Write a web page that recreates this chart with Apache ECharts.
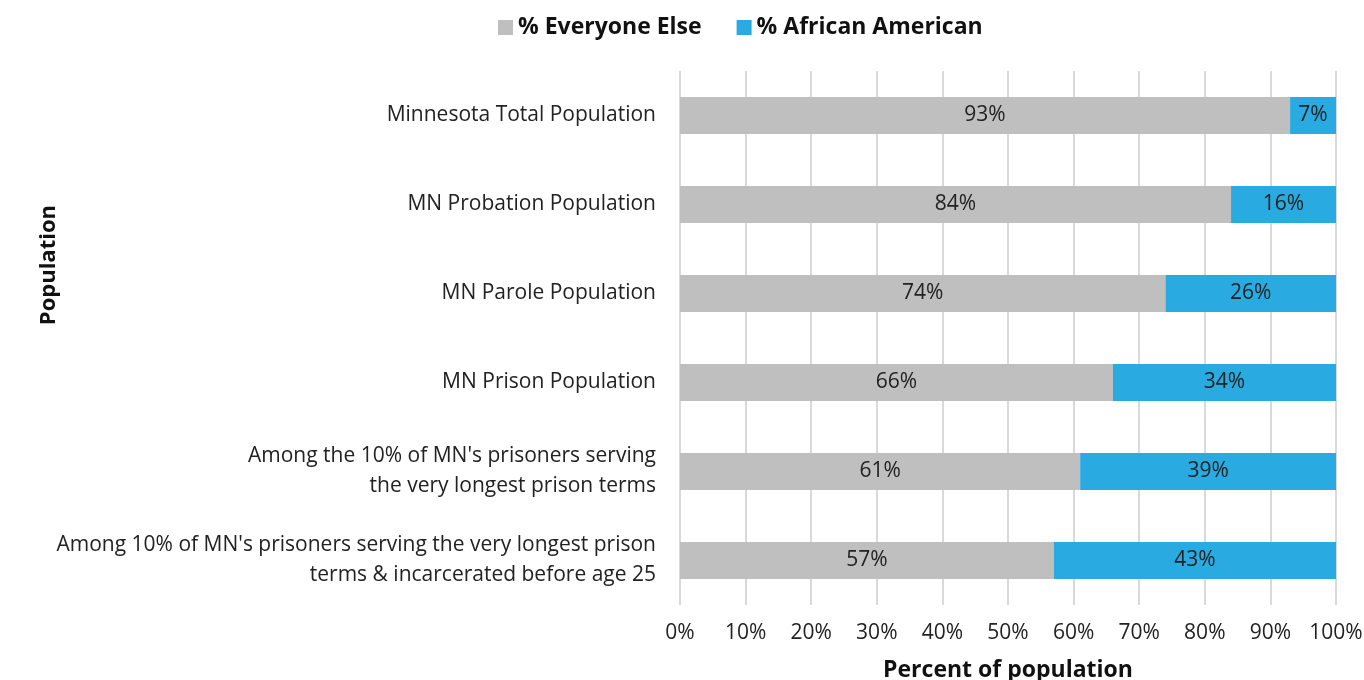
<!DOCTYPE html>
<html>
<head>
<meta charset="utf-8">
<script src="https://cdn.jsdelivr.net/npm/echarts@6/dist/echarts.min.js"></script>
<style>
  html, body { margin: 0; padding: 0; background: #fff; }
  #main { width: 1364px; height: 680px; }
</style>
</head>
<body>
<div id="main"></div>
<script>
(function () {
    "use strict";

    var categories = [
        'Minnesota Total Population',
        'MN Probation Population',
        'MN Parole Population',
        'MN Prison Population',
        'Among the 10% of MN\'s prisoners serving\nthe very longest prison terms',
        'Among 10% of MN\'s prisoners serving the very longest prison\nterms & incarcerated before age 25'
    ];
    var everyoneElse = [93, 84, 74, 66, 61, 57];
    var africanAmerican = [7, 16, 26, 34, 39, 43];
    var xTicks = [0, 100, 10];

    var font = '"Open Sans", "Liberation Sans", sans-serif';
    var myChart = echarts.init(document.getElementById('main'));

    var labelStyle = {
        show: true,
        position: 'inside',
        formatter: '{c}%',
        color: '#222',
        fontSize: 21,
        fontFamily: font
    };

    var option = {
        backgroundColor: '#fff',
        legend: {
            left: 493,
            top: 11,
            itemWidth: 15,
            itemHeight: 15,
            itemGap: 35,
            itemTextGap: 7,
            icon: 'rect',
            textStyle: {
                fontFamily: font,
                fontSize: 23,
                fontWeight: 'bold',
                color: '#111'
            },
            data: ['% Everyone Else', '% African American']
        },
        grid: {
            left: 680,
            right: 28,
            top: 71,
            bottom: 75,
            containLabel: false,
            outerBoundsMode: 'none'
        },
        xAxis: {
            type: 'value',
            min: xTicks[0],
            max: xTicks[1],
            interval: xTicks[2],
            name: 'Percent of population',
            nameLocation: 'middle',
            nameGap: 54,
            nameTextStyle: {
                fontFamily: font,
                fontSize: 23,
                fontWeight: 'bold',
                color: '#111'
            },
            axisLine: { show: false },
            axisTick: { show: false },
            axisLabel: {
                formatter: '{value}%',
                fontFamily: font,
                fontSize: 21,
                color: '#222',
                margin: 18
            },
            splitLine: {
                lineStyle: { color: '#d9d9d9', width: 2 }
            }
        },
        yAxis: {
            type: 'category',
            inverse: true,
            data: categories,
            axisLine: { show: false },
            axisTick: { show: false },
            axisLabel: {
                fontFamily: font,
                fontSize: 21,
                color: '#222',
                margin: 24,
                lineHeight: 30,
                align: 'right'
            }
        },
        graphic: [{
            type: 'text',
            left: 38,
            top: 205,
            rotation: Math.PI / 2,
            style: {
                text: 'Population',
                fontFamily: font,
                fontSize: 22,
                fontWeight: 'bold',
                fill: '#111'
            }
        }],
        series: [{
            name: '% Everyone Else',
            type: 'bar',
            stack: 'pop',
            barWidth: 37,
            itemStyle: { color: '#bfbfbf' },
            label: labelStyle,
            data: everyoneElse
        }, {
            name: '% African American',
            type: 'bar',
            stack: 'pop',
            barWidth: 37,
            itemStyle: { color: '#29abe2' },
            label: labelStyle,
            data: africanAmerican
        }]
    };

    myChart.setOption(option);
})();
</script>
</body>
</html>
